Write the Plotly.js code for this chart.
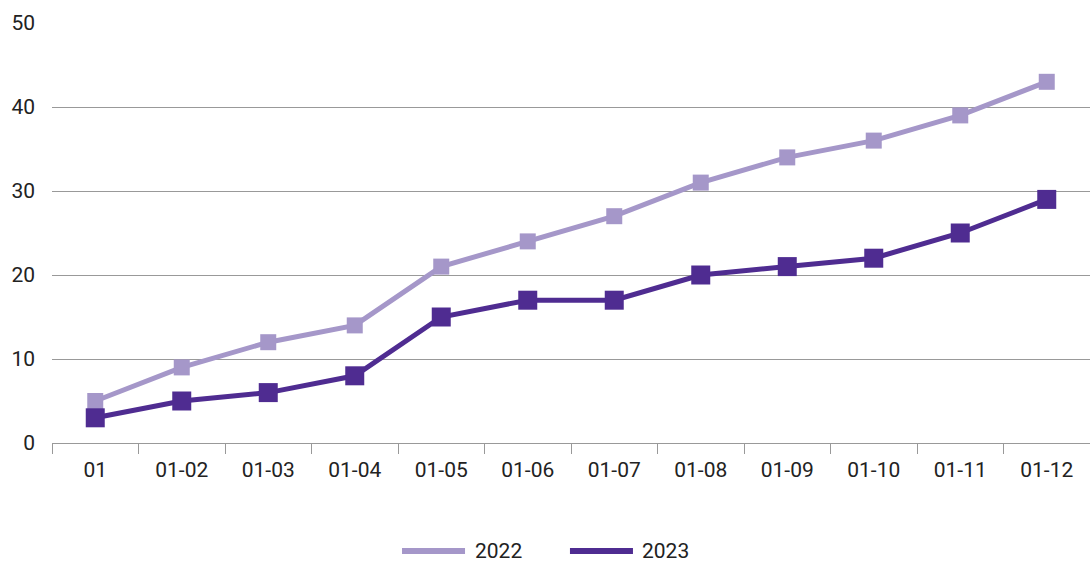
<!DOCTYPE html>
<html><head><meta charset="utf-8">
<script src="https://cdn.plot.ly/plotly-3.0.1.min.js"></script>
<style>html,body{margin:0;padding:0;background:#fff}#c{width:1090px;height:562px}</style>
</head><body><div id="c"></div>
<script>
const categories = ["01","01-02","01-03","01-04","01-05","01-06","01-07","01-08","01-09","01-10","01-11","01-12"];
const values2022 = [5,9,12,14,21,24,27,31,34,36,39,43];
const values2023 = [3,5,6,8,15,17,17,20,21,22,25,29];
const seriesNames = ["2022","2023"];
const yTicks = [0,10,20,30,40,50];
const FONT = 'Roboto, "DejaVu Sans", sans-serif';
const C22 = "#A597C9", C23 = "#4F2C91";
const traces = [
  {x: categories, y: values2022, name: seriesNames[0], type: "scatter", mode: "lines+markers",
   line: {color: C22, width: 5}, marker: {symbol: "square", size: 16, color: C22}},
  {x: categories, y: values2023, name: seriesNames[1], type: "scatter", mode: "lines+markers",
   line: {color: C23, width: 5}, marker: {symbol: "square", size: 19, color: C23}}
];
const legY = -0.257;
const layout = {
  width: 1090, height: 562,
  margin: {l: 52, r: 0, t: 23, b: 119},
  paper_bgcolor: "#fff", plot_bgcolor: "#fff",
  font: {family: FONT, size: 21, color: "#222"},
  showlegend: false,
  xaxis: {type: "category", range: [-0.5, categories.length - 0.5], tickson: "boundaries", ticks: "outside", ticklen: 10, tickcolor: "#999",
          showline: true, linecolor: "#999", linewidth: 1, showgrid: false, zeroline: false, automargin: false,
          tickfont: {family: FONT, size: 21, color: "#222"}, ticklabelstandoff: 8},
  yaxis: {range: [0, 50], tickvals: yTicks, showgrid: true, gridcolor: "#999", gridwidth: 1, automargin: false,
          zeroline: false, showline: false, ticks: "", ticklabelstandoff: 16,
          tickfont: {family: FONT, size: 21, color: "#222"}},
  shapes: [
    {type: "line", xref: "paper", yref: "paper", x0: 0.3372, x1: 0.3979, y0: legY, y1: legY, line: {color: C22, width: 6}},
    {type: "line", xref: "paper", yref: "paper", x0: 0.4990, x1: 0.5597, y0: legY, y1: legY, line: {color: C23, width: 6}}
  ],
  annotations: [
    {text: seriesNames[0], xref: "paper", yref: "paper", x: 0.4056, y: legY, xanchor: "left", yanchor: "middle", showarrow: false, font: {family: FONT, size: 21, color: "#222"}},
    {text: seriesNames[1], xref: "paper", yref: "paper", x: 0.5665, y: legY, xanchor: "left", yanchor: "middle", showarrow: false, font: {family: FONT, size: 21, color: "#222"}}
  ]
};
Plotly.newPlot("c", traces, layout, {displayModeBar: false, staticPlot: true});
</script></body></html>
